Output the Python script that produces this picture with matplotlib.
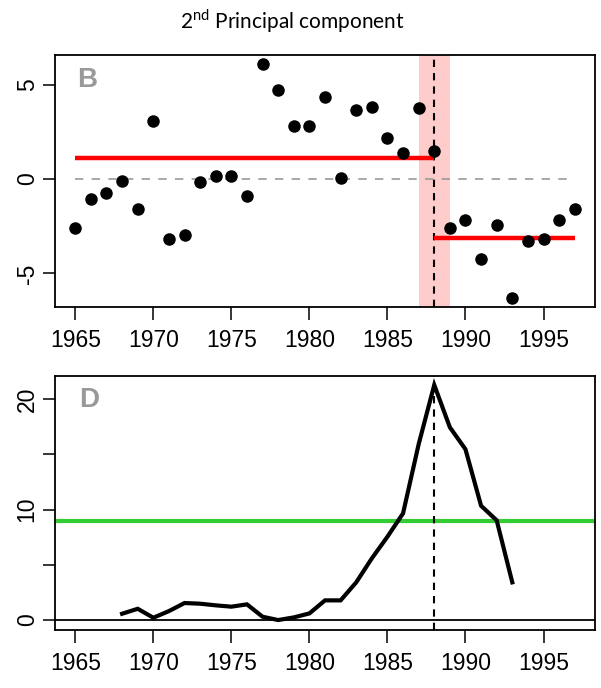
import matplotlib
matplotlib.use("Agg")
import matplotlib.pyplot as plt

years_pc = list(range(1965, 1998))
pc2 = [-2.58, -1.08, -0.72, -0.09, -1.61, 3.07, -3.20, -2.97, -0.18, 0.16,
       0.18, -0.90, 6.09, 4.73, 2.81, 2.81, 4.36, 0.04, 3.64, 3.80,
       2.19, 1.40, 3.74, 1.50, -2.60, -2.17, -4.24, -2.44, -6.31, -3.29,
       -3.18, -2.17, -1.59]
regime_starts = [1965, 1988]
regime_ends = [1988, 1997]
regime_means = [1.13, -3.11]
shift_year = 1988
band = [1987, 1989]

years_rsi = list(range(1968, 1994))
rsi = [0.57, 1.02, 0.21, 0.81, 1.54, 1.48, 1.33, 1.21, 1.42, 0.30,
       0.00, 0.24, 0.60, 1.78, 1.78, 3.41, 5.58, 7.54, 9.65, 15.9,
       21.27, 17.44, 15.45, 10.34, 9.02, 3.41]
threshold = 8.93

xticks = [1965, 1970, 1975, 1980, 1985, 1990, 1995]

plt.rcParams['font.family'] = ['Liberation Sans', 'DejaVu Sans']

fig = plt.figure(figsize=(6.01, 6.88), dpi=100)
W, H = 601, 688
def ax_rect(l, t, r, b):
    return [l / W, 1 - b / H, (r - l) / W, (b - t) / H]

ax1 = fig.add_axes(ax_rect(55.3, 54.7, 594.7, 307))
ax2 = fig.add_axes(ax_rect(55.3, 376, 594.7, 630))

tick_fs = 16.5
for ax in (ax1, ax2):
    for s in ax.spines.values():
        s.set_linewidth(1.3)
    ax.tick_params(axis='both', direction='out', length=9, width=1.1,
                   labelsize=tick_fs)
    ax.tick_params(axis='x', pad=6.5)
    ax.tick_params(axis='y', pad=3)
    ax.set_xlim(1963.72, 1998.28)
    ax.set_xticks(xticks)
    ax.set_xticklabels([str(t) for t in xticks])

vdash = (0, (3.5, 2.9))

# Top panel
ax1.axvspan(band[0], band[1], color='#ffcccc', zorder=0, lw=0)
ax1.plot([years_pc[0], years_pc[-1]], [0, 0], ls=(0, (5, 5)), color='#999999', lw=1.2, zorder=1)
ax1.axvline(shift_year, color='black', ls=vdash, lw=1.5, zorder=2)
for s, e, m in zip(regime_starts, regime_ends, regime_means):
    ax1.plot([s, e], [m, m], color='red', lw=3.2, solid_capstyle='butt', zorder=3)
ax1.plot(years_pc, pc2, 'o', color='black', ms=8, zorder=4)
ax1.set_ylim(-6.78, 6.59)
ax1.set_yticks([-5, 0, 5])
ax1.set_yticklabels(['-5', '0', '5'], rotation=90, va='center')
ax1.text(0.059, 0.9, 'B', transform=ax1.transAxes, color='#999999',
         fontsize=20, fontweight='bold', ha='center', va='center')

# Bottom panel
ax2.axhline(0, color='black', lw=1.3, zorder=1)
ax2.axhline(threshold, color='#33cc33', lw=3, zorder=2)
ax2.axvline(shift_year, color='black', ls=vdash, lw=1.5, zorder=2)
ax2.plot(years_rsi, rsi, color='black', lw=3, zorder=3, solid_joinstyle='miter')
ax2.set_ylim(-0.9, 22.08)
ax2.set_yticks([0, 5, 10, 15, 20])
ax2.set_yticklabels(['0', '', '10', '', '20'], rotation=90, va='center')
ax2.text(0.062, 0.904, 'D', transform=ax2.transAxes, color='#999999',
         fontsize=20, fontweight='bold', ha='center', va='center')

fig.text(292 / W, 1 - 21 / H, r'2$^{\mathregular{nd}}$ Principal component', ha='center', va='center',
         fontsize=15, family=['Lato', 'DejaVu Sans'])

fig.savefig('out.png', dpi=100)
